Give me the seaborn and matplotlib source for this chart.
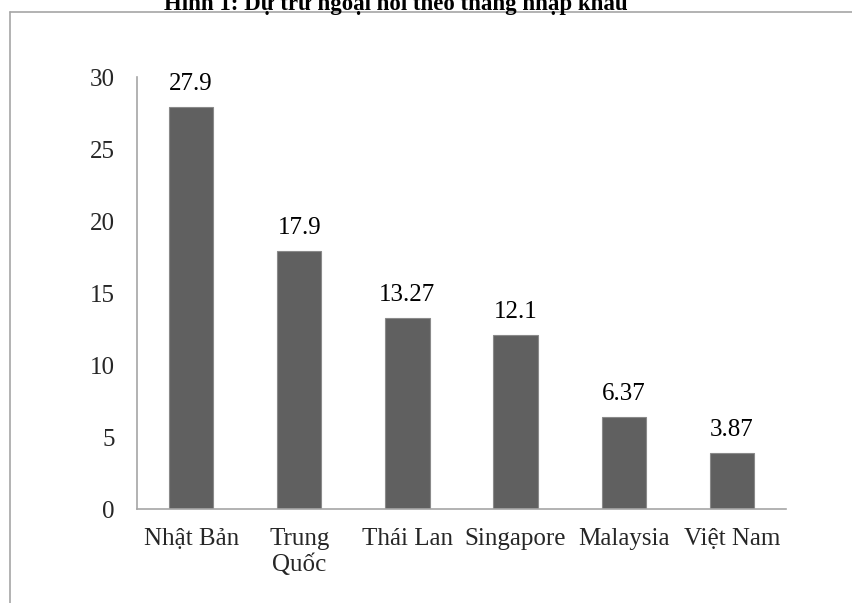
import matplotlib
matplotlib.use("Agg")
import matplotlib.pyplot as plt
import seaborn as sns
from matplotlib.lines import Line2D

# months of import covered by reserves
countries = ["Nhật Bản", "Trung\nQuốc", "Thái Lan", "Singapore", "Malaysia", "Việt Nam"]
values = [27.9, 17.9, 13.27, 12.1, 6.37, 3.87]
value_labels = ["27.9", "17.9", "13.27", "12.1", "6.37", "3.87"]
yticks = [0, 5, 10, 15, 20, 25, 30]
title = "Hình 1: Dự trữ ngoại hối theo tháng nhập khẩu"

sns.set_style("white")
plt.rcParams['font.family'] = ['Liberation Serif', 'DejaVu Serif']

fig = plt.figure(figsize=(8.52, 6.03), dpi=100)
ax = fig.add_axes([137/852, 1 - 509/603, 649/852, 432/603])

sns.barplot(x=countries, y=values, color="#606060", saturation=1,
            width=0.41, edgecolor="#8a8a8a", linewidth=0.8, ax=ax)

ax.bar_label(ax.containers[0], labels=value_labels, padding=8.5,
             fontsize=18, color="black")

ax.set_ylim(0, 30)
ax.set_yticks(yticks)
ax.set_yticklabels([str(t) for t in yticks], fontsize=18)
ax.tick_params(axis="y", length=0, pad=16)
ax.tick_params(axis="x", length=0, pad=14, labelsize=18)
for lbl in ax.get_xticklabels():
    lbl.set_linespacing(1.15)
ax.set_xlabel("")
ax.set_ylabel("")

for side in ["top", "right"]:
    ax.spines[side].set_visible(False)
for side in ["left", "bottom"]:
    ax.spines[side].set_color("#a6a6a6")
    ax.spines[side].set_linewidth(1.2)

# outer chart frame (cut off at right and bottom)
fx = 10/852
fy = 1 - 12/603
fig.add_artist(Line2D([fx, fx], [-0.1, fy], transform=fig.transFigure,
                      color="#a6a6a6", lw=1.2))
fig.add_artist(Line2D([fx, 1.1], [fy, fy], transform=fig.transFigure,
                      color="#a6a6a6", lw=1.2))

fig.text(396/852, 1 - 10/603, title, ha="center", va="baseline",
         fontsize=16.5, fontweight="bold", color="black")

fig.savefig("out.png", dpi=100)
